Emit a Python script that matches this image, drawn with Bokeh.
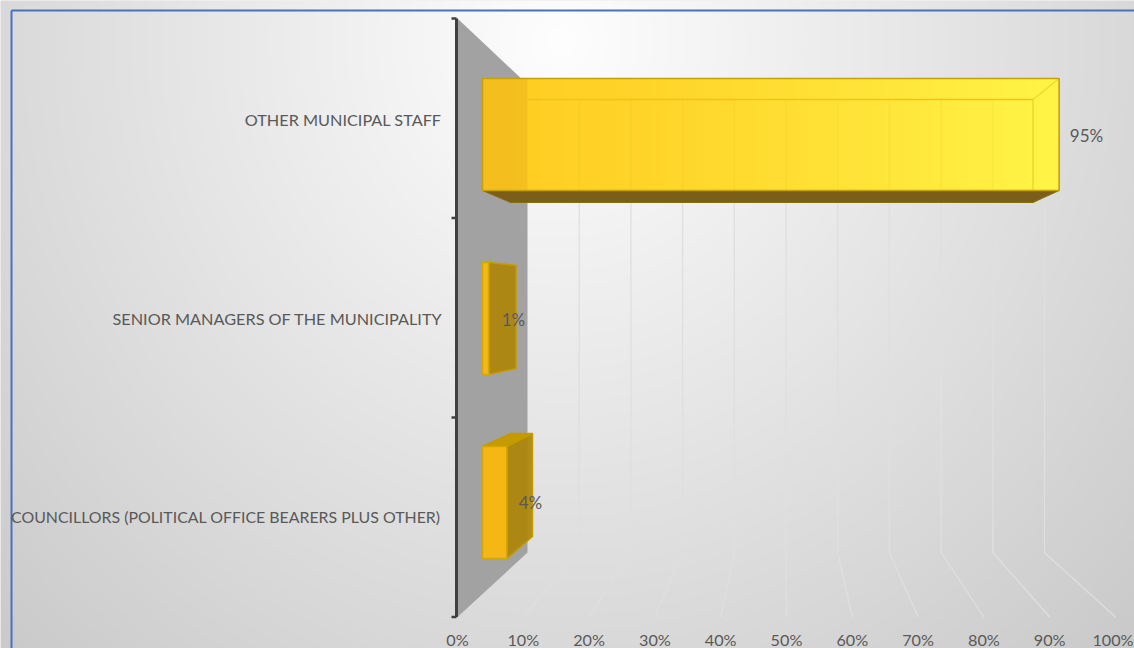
import numpy as np
from bokeh.core.properties import value
from bokeh.embed import file_html
from bokeh.models import Range1d
from bokeh.plotting import figure
from bokeh.resources import INLINE

# Chart content
categories = ["OTHER MUNICIPAL STAFF",
              "SENIOR MANAGERS OF THE MUNICIPALITY",
              "COUNCILLORS (POLITICAL OFFICE BEARERS PLUS OTHER)"]
shares = [95, 1, 4]
tick_values = [0, 10, 20, 30, 40, 50, 60, 70, 80, 90, 100]
tick_labels = [f"{t}%" for t in tick_values]

W, H = 1134, 648
FONT = value("Lato")
TEXT = "#595959"

# Projection of the 3D box onto the page: each depth plane has its own linear x scale
def floor_x(v):
    return 457 + 6.58 * v

def wall_x(v):
    return 527 + 5.17 * v

def bar_front_x(v):
    return 482 + 6.07 * v

def bar_back_x(v):
    return 510 + 5.5 * v

FLOOR_Y, WALL_BOTTOM, WALL_TOP = 616.5, 552, 84
front_top = [78, 262, 446]
back_top = [99, 265, 433]
BAR_FRONT_H, BAR_BACK_H = 112, 103

p = figure(width=W, height=H, x_range=Range1d(0, W), y_range=Range1d(H, 0),
           output_backend="svg", toolbar_location=None, min_border=0,
           x_axis_type=None, y_axis_type=None)
p.grid.visible = False
p.outline_line_color = None
p.background_fill_color = "#e4e4e4"
p.border_fill_color = "#e4e4e4"

# Soft radial backdrop
yy, xx = np.mgrid[0:H // 2, 0:W // 2] * 2
rr = np.hypot((xx - 560) / 600, (yy - 40) / 640)
grey = np.clip(254 - 39 * rr, 0, 255).astype(np.uint32)
rgba = (255 << 24) | (grey << 16) | (grey << 8) | grey
p.image_rgba(image=[rgba.astype(np.uint32)], x=[0], y=[0], dw=[W], dh=[-H])

# Chart area border
p.line([11, 11], [648, 10], line_color="#4472c4", line_width=2)
p.line([11, 1134], [10, 10], line_color="#4472c4", line_width=2)

# Gridlines on the back wall and the floor
for t in tick_values[1:]:
    p.line([wall_x(t), wall_x(t), floor_x(t)], [WALL_TOP, WALL_BOTTOM, FLOOR_Y],
           line_color="#dfdfdf", line_width=1.3)

# Side wall
p.patch([457, 527, 527, 457], [18, 84, WALL_BOTTOM, FLOOR_Y],
        fill_color="#a2a2a2", line_color=None)

# Vertical axis with its category ticks
p.line([456, 456], [18, FLOOR_Y], line_color="#404040", line_width=3)
for i in range(4):
    y = 18 + i * (FLOOR_Y - 18) / 3
    p.line([451, 456], [y, y], line_color="#404040", line_width=2.5)

for v, ft, bt in zip(shares, front_top, back_top):
    fb, bb = ft + BAR_FRONT_H, bt + BAR_BACK_H
    x0f, x1f = bar_front_x(0), bar_front_x(v)
    x0b, x1b = bar_back_x(0), bar_back_x(v)

    if v < 50:
        # Short bars: the side face and, below the vanishing line, the top face are visible
        p.patch([x1f, x1b, x1b, x1f], [ft, bt, bb, fb], fill_color="#ad8407", fill_alpha=0.92,
                line_color="#c49a00", line_width=1.5)
        if bt < ft:
            p.patch([x0f, x0b, x1b, x1f], [ft, bt, bt, ft], fill_color="#c49a05",
                    line_color="#c49a00", line_width=1.5)
        p.patch([x0f, x1f, x1f, x0f], [ft, ft, fb, fb], fill_color="#f4b714",
                line_color="#d8a600", line_width=1.5)
    else:
        # Long bar: underside, then a left-to-right colour ramp on the front face
        p.patch([x0f, x1f, x1b, x0b], [fb, fb, bb, bb], fill_color="#7a5e1a",
                line_color="#8a6c10", line_width=1)
        left, right = int(round(x0f)), int(round(x1f))
        edges = np.arange(left, right)
        f = (edges - left) / (right - left)
        colors = []
        for x, q in zip(edges, f):
            g, b = 205 + 40 * q ** 1.3, 36 + 36 * q ** 1.3
            if x < wall_x(0):
                colors.append(f"#f4{int(g) - 14:02x}{int(b) - 6:02x}")
            else:
                colors.append(f"#ff{int(g):02x}{int(b):02x}")
        # Strips overlap by a pixel so no background shows between them
        p.quad(left=edges, right=np.minimum(edges + 2, right), top=ft, bottom=fb,
               fill_color=colors, line_color=None)
        # Wall gridlines and the far edges showing through the front
        for t in tick_values[1:]:
            if wall_x(t) < x1b:
                p.line([wall_x(t), wall_x(t)], [bt, fb], line_color="#e0a810",
                       line_alpha=0.12, line_width=1.2)
        p.line([wall_x(0), x1b], [bt, bt], line_color="#eec418", line_width=1.3)
        p.line([x1f, x1b], [ft, bt], line_color="#eada28", line_width=1.2)
        p.line([x1b, x1b], [bt, fb], line_color="#e6d42a", line_width=1.3)
        p.patch([x0f, x1f, x1f, x0f], [ft, ft, fb, fb], fill_color=None,
                line_color="#c9a000", line_width=1.6)

# Category labels
p.text(x=[441, 442], y=[118.5, 318], text=categories[:2], text_font=FONT,
       text_font_size="16.25px", text_color=TEXT, text_align="right", text_baseline="middle")
p.text(x=[440], y=[516], text=categories[2:], text_font=FONT,
       text_font_size="15.9px", text_color=TEXT, text_align="right", text_baseline="middle")

# Value labels
p.text(x=[1086, 513, 530], y=[135, 319, 502], text=[f"{v}%" for v in shares], text_font=FONT,
       text_font_size="17px", text_color=TEXT, text_align="center", text_baseline="middle")

# Horizontal axis labels; the last one is held just inside the page edge
p.text(x=[min(floor_x(t), 1112.5) for t in tick_values], y=[638.5] * len(tick_values),
       text=tick_labels, text_font=FONT, text_font_size="16.2px", text_color=TEXT,
       text_align="center", text_baseline="middle")

open("out.html", "w").write(file_html(p, INLINE))
